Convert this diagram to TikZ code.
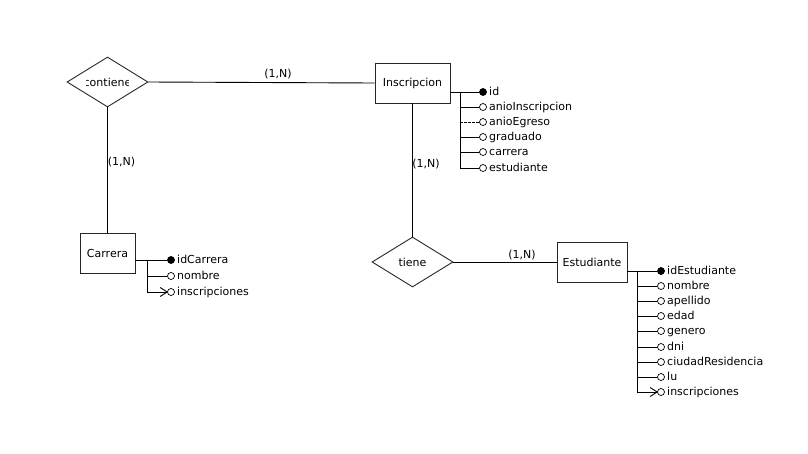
\documentclass[tikz,border=0pt]{standalone}
\usepackage{fontspec}
\setmainfont{DejaVu Sans}
\usetikzlibrary{shapes.geometric,calc}
\begin{document}
\begin{tikzpicture}[x=1pt,y=-1pt,
  every node/.style={font=\fontsize{11}{13}\selectfont},
  line/.style={draw=black,line width=0.9pt},
  entity/.style={draw=black!85,line width=0.9pt,rectangle,inner sep=0pt},
  relation/.style={draw=black!85,line width=0.9pt,diamond,inner sep=0pt,minimum width=81pt,minimum height=50pt},
  card/.style={inner sep=0pt,text height=8pt,text depth=2.5pt},
  keyatt/.style={circle,draw=black,fill=black,line width=0.7pt,inner sep=0pt,minimum size=7pt},
  plainatt/.style={circle,draw=black,fill=white,line width=0.7pt,inner sep=0pt,minimum size=7pt},
  attname/.style={anchor=west,inner sep=0pt,text height=8pt,text depth=2pt},
]
\useasboundingbox (0,0) rectangle (808,453);

% ---------- entities and relationships ----------
\node[relation] (contiene) at (107.5,82) {};
\begin{scope}
  \clip (86,70) rectangle (128,95);
  \node[inner sep=0pt] (contienetxt) at (107.5,82) {contiene};
\end{scope}
\node[entity,minimum width=75pt,minimum height=40pt] (insc) at (412.5,83) {Inscripcion};
\node[entity,minimum width=55pt,minimum height=40pt] (carrera) at (107.5,253) {Carrera};
\node[relation] (tiene) at (412.5,262) {tiene};
\node[entity,minimum width=70pt,minimum height=40pt] (estud) at (592,262) {Estudiante};

% ---------- relationship lines with cardinalities ----------
\draw[line] (contiene.east) -- (insc.west);
\draw[line] (contiene.south) -- (carrera.north);
\draw[line] (insc.south) -- (tiene.north);
\draw[line] (tiene.east) -- (estud.west);
\node[card] (c1) at (278,75) {(1,N)};
\node[card] (c2) at (121.5,163) {(1,N)};
\node[card] (c3) at (426,165) {(1,N)};
\node[card] (c4) at (522,256) {(1,N)};

% ---------- attributes of Inscripcion ----------
\coordinate (it) at (460,92);
\node[keyatt]   (ia1) at (483,92)  {};
\node[plainatt] (ia2) at (483,107) {};
\node[plainatt] (ia3) at (483,122) {};
\node[plainatt] (ia4) at (483,137) {};
\node[plainatt] (ia5) at (483,152) {};
\node[plainatt] (ia6) at (483,168) {};
\node[attname] (ian1) at (489,92)  {id};
\node[attname] (ian2) at (489,107) {anioInscripcion};
\node[attname] (ian3) at (489,122) {anioEgreso};
\node[attname] (ian4) at (489,137) {graduado};
\node[attname] (ian5) at (489,152) {carrera};
\node[attname] (ian6) at (489,168) {estudiante};
\draw[line] (insc.east |- it) -- (it) -- (it |- ia6);
\draw[line] (it) -- (ia1);
\draw[line] (it |- ia2) -- (ia2);
\draw[line,dash pattern=on 2.5pt off 1.5pt] (it |- ia3) -- (ia3);
\draw[line] (it |- ia4) -- (ia4);
\draw[line] (it |- ia5) -- (ia5);
\draw[line] (it |- ia6) -- (ia6);

% ---------- attributes of Carrera ----------
\coordinate (ct) at (147,260);
\node[keyatt]   (ca1) at (171,260) {};
\node[plainatt] (ca2) at (171,276) {};
\node[plainatt] (ca3) at (171,292) {};
\node[attname] (can1) at (177,260) {idCarrera};
\node[attname] (can2) at (177,276) {nombre};
\node[attname] (can3) at (177,292) {inscripciones};
\draw[line] (carrera.east |- ct) -- (ct) -- (ct |- ca3);
\draw[line] (ct) -- (ca1);
\draw[line] (ct |- ca2) -- (ca2);
\draw[line] (ct |- ca3) -- (ca3);
\draw[line] ($(ca3.west)+(-7,-4.5)$) -- (ca3.west) -- ($(ca3.west)+(-7,4.5)$);

% ---------- attributes of Estudiante ----------
\coordinate (et) at (637,271);
\node[keyatt]   (ea1) at (661,271) {};
\node[plainatt] (ea2) at (661,286) {};
\node[plainatt] (ea3) at (661,301) {};
\node[plainatt] (ea4) at (661,316) {};
\node[plainatt] (ea5) at (661,331) {};
\node[plainatt] (ea6) at (661,347) {};
\node[plainatt] (ea7) at (661,362) {};
\node[plainatt] (ea8) at (661,377) {};
\node[plainatt] (ea9) at (661,392) {};
\node[attname] (ean1) at (667,271) {idEstudiante};
\node[attname] (ean2) at (667,286) {nombre};
\node[attname] (ean3) at (667,301) {apellido};
\node[attname] (ean4) at (667,316) {edad};
\node[attname] (ean5) at (667,331) {genero};
\node[attname] (ean6) at (667,347) {dni};
\node[attname] (ean7) at (667,362) {ciudadResidencia};
\node[attname] (ean8) at (667,377) {lu};
\node[attname] (ean9) at (667,392) {inscripciones};
\draw[line] (estud.east |- et) -- (et) -- (et |- ea9);
\draw[line] (et) -- (ea1);
\foreach \k in {2,...,9} { \draw[line] (et |- ea\k) -- (ea\k); }
\draw[line] ($(ea9.west)+(-7,-4.5)$) -- (ea9.west) -- ($(ea9.west)+(-7,4.5)$);
\end{tikzpicture}
\end{document}
